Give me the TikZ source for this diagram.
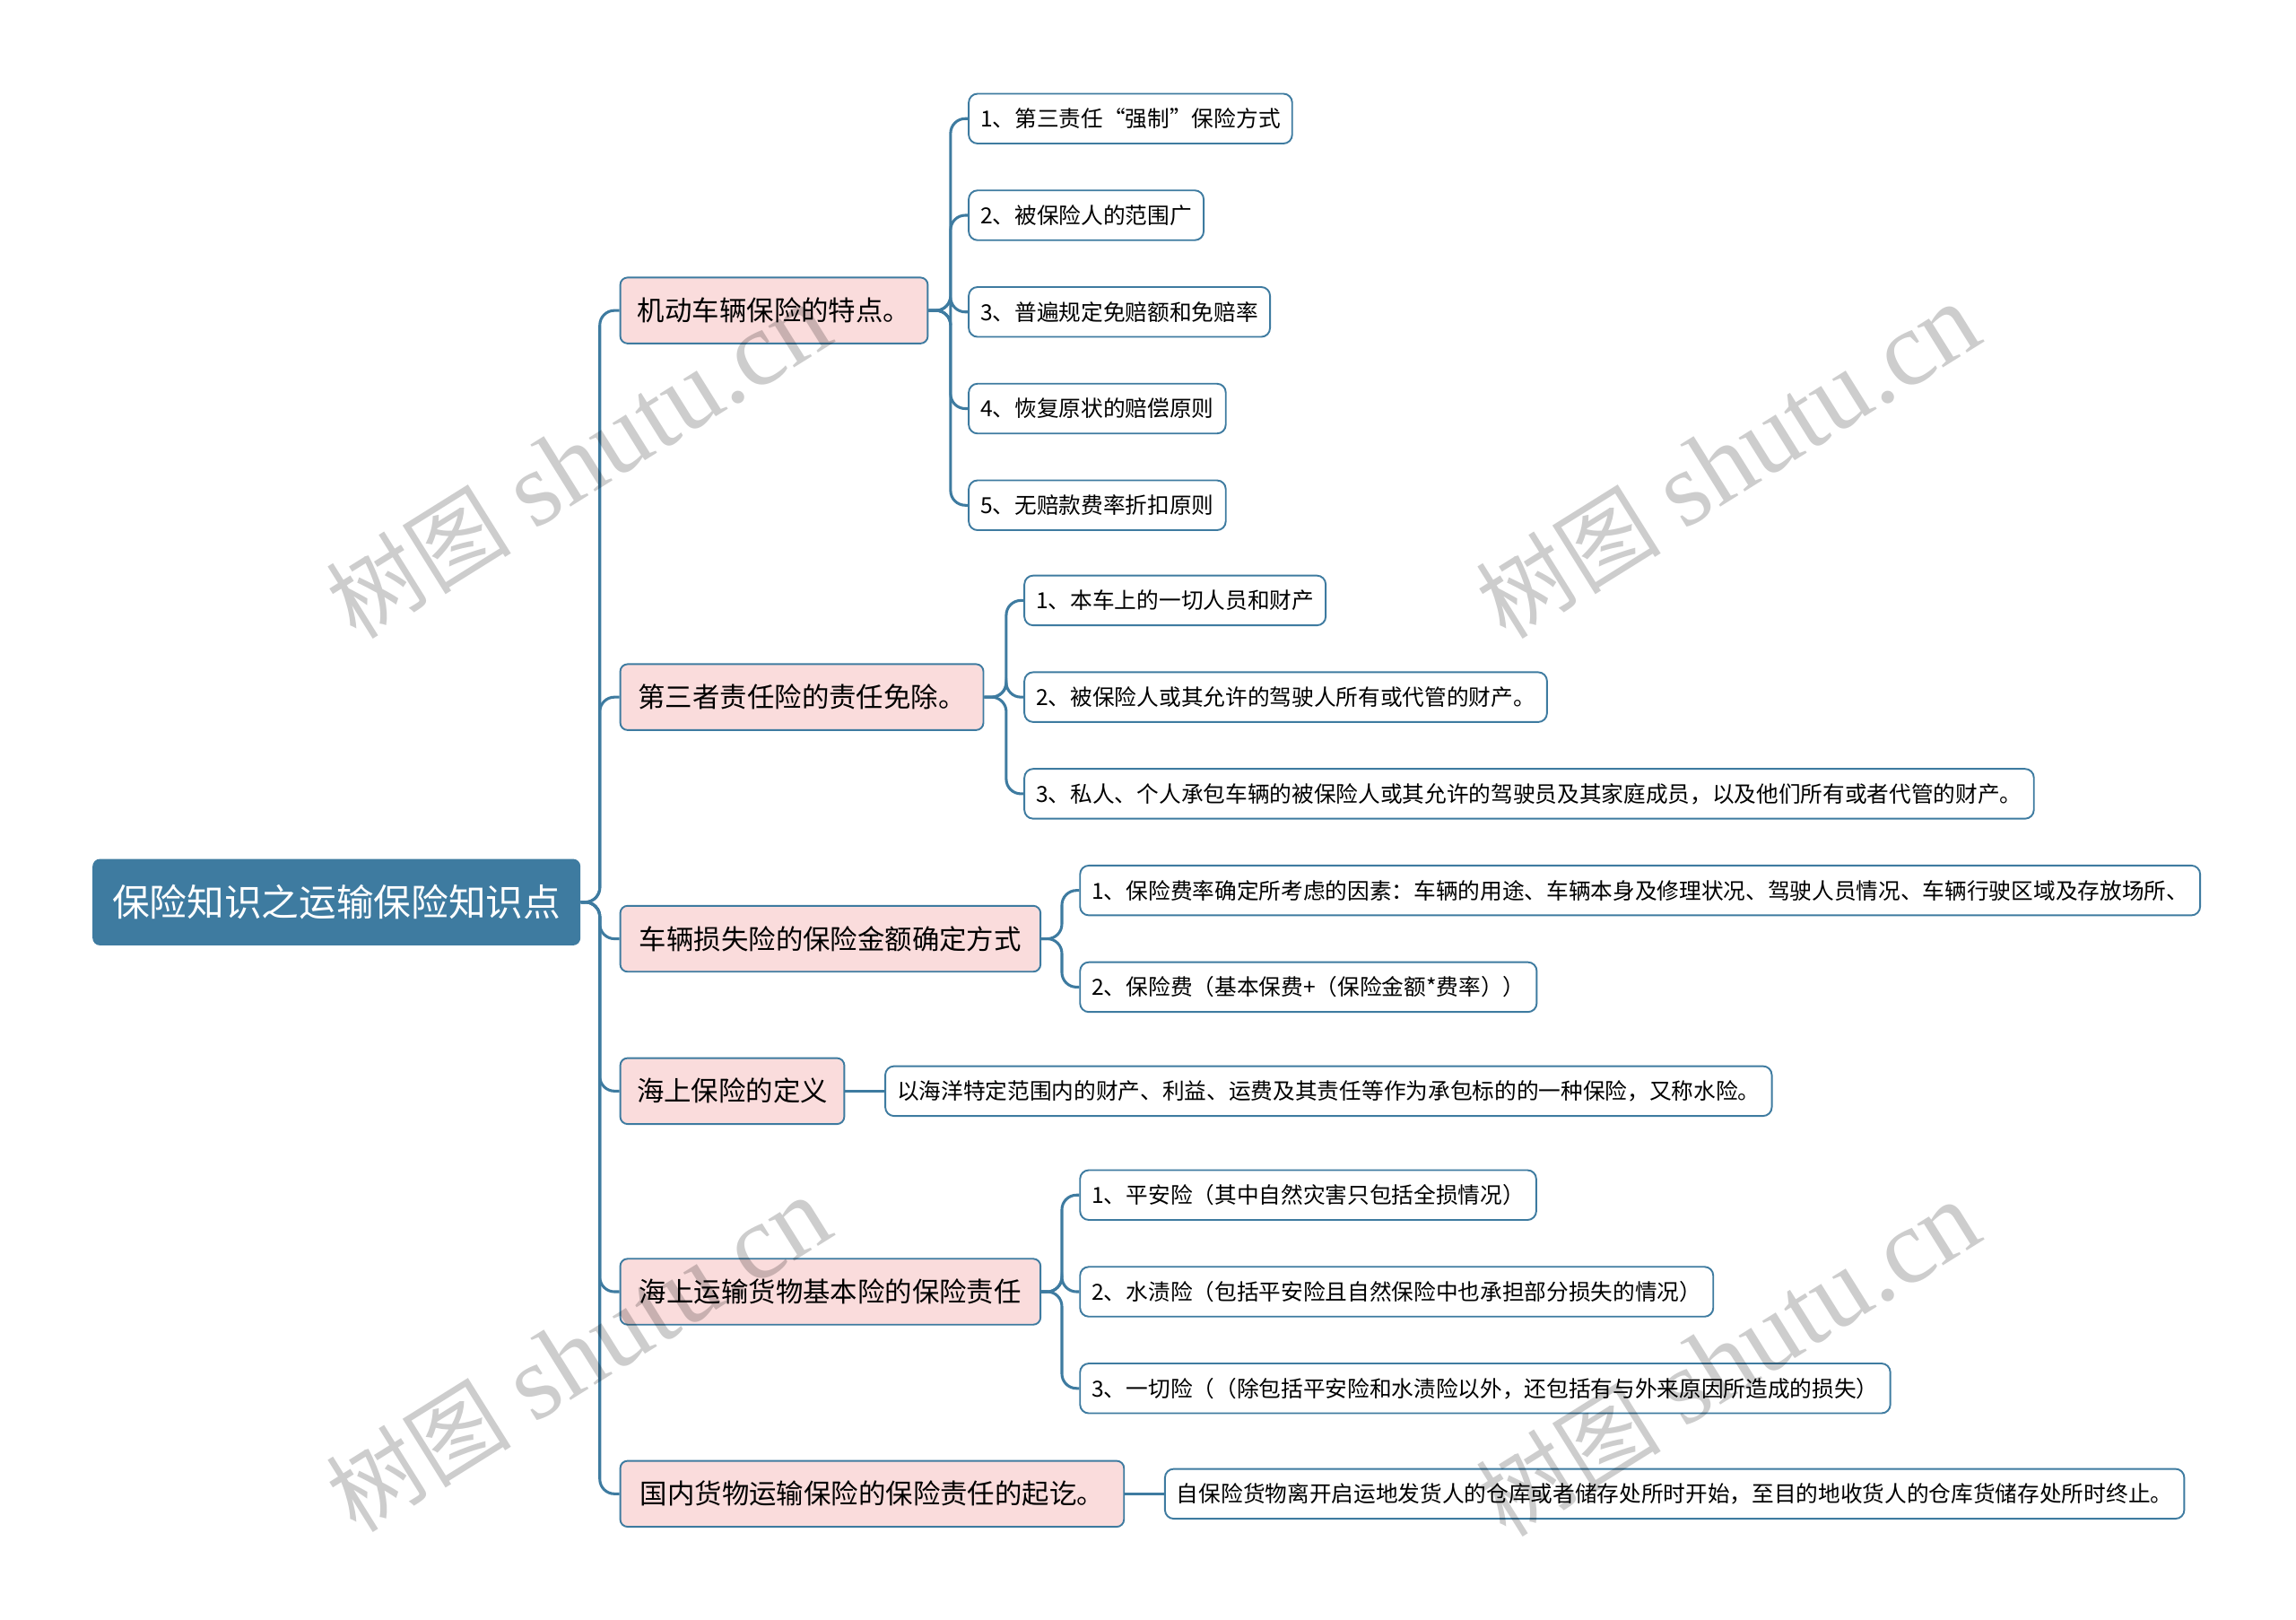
\documentclass[tikz,border=0pt]{standalone}
\usepackage{fontspec}
\setmainfont{Noto Sans CJK SC}
\newfontfamily\markfont{Liberation Serif}
\usepackage{tikz}
\usetikzlibrary{positioning,calc}
\definecolor{mBlue}{RGB}{62,123,160}
\definecolor{mPink}{RGB}{250,220,220}
\definecolor{mMark}{RGB}{205,205,205}
\tikzset{
  rootbox/.style={rectangle, rounded corners=0.15cm, fill=mBlue, text=white,
    font=\fontsize{21.8}{26}\selectfont, minimum height=1.77cm, minimum width=9.99cm,
    inner xsep=0.4cm, anchor=west},
  topicbox/.style={rectangle, rounded corners=0.15cm, draw=mBlue, line width=1pt,
    fill=mPink, font=\fontsize{15.9}{19}\selectfont, minimum height=1.35cm,
    inner xsep=0.3cm, anchor=west},
  leafbox/.style={rectangle, rounded corners=0.18cm, draw=mBlue, line width=1pt,
    fill=white, font=\fontsize{12.9}{15}\selectfont, minimum height=1.02cm,
    inner xsep=0.24cm, anchor=west},
  link/.style={draw=mBlue, line width=1.6pt, rounded corners=0.3cm},
  wmark/.style={text=mMark, blend mode=multiply, rotate=32, font=\fontsize{62}{70}\selectfont},
}
\newcommand{\wmtext}{{\fontsize{54}{60}\selectfont 树图} {\markfont shutu.cn}}

\begin{document}
\begin{tikzpicture}[x=0.03cm, y=-0.03cm]
    \useasboundingbox (0,0) rectangle (1568,1106);
    % root
    \node[rootbox] (root) at (63,616) {保险知识之运输保险知识点};
    % topics
    \node[topicbox, minimum width=6.3cm]  (car)    at (423,212)  {机动车辆保险的特点。};
    \node[topicbox, minimum width=7.44cm] (third)  at (423,476)  {第三者责任险的责任免除。};
    \node[topicbox, minimum width=8.61cm] (loss)   at (423,641)  {车辆损失险的保险金额确定方式};
    \node[topicbox, minimum width=4.59cm] (sea)    at (423,745)  {海上保险的定义};
    \node[topicbox, minimum width=8.61cm] (cargo)  at (423,882)  {海上运输货物基本险的保险责任};
    \node[topicbox, minimum width=10.32cm] (inland) at (423,1020) {国内货物运输保险的保险责任的起讫。};
    % leaves of car
    \node[leafbox] (car1) at (661,81)  {1、第三责任“强制”保险方式};
    \node[leafbox] (car2) at (661,147) {2、被保险人的范围广};
    \node[leafbox] (car3) at (661,213) {3、普遍规定免赔额和免赔率};
    \node[leafbox] (car4) at (661,279) {4、恢复原状的赔偿原则};
    \node[leafbox] (car5) at (661,345) {5、无赔款费率折扣原则};
    % leaves of third
    \node[leafbox] (third1) at (699,410) {1、本车上的一切人员和财产};
    \node[leafbox] (third2) at (699,476) {2、被保险人或其允许的驾驶人所有或代管的财产。};
    \node[leafbox] (third3) at (699,542) {3、私人、个人承包车辆的被保险人或其允许的驾驶员及其家庭成员，以及他们所有或者代管的财产。};
    % leaves of loss
    \node[leafbox] (loss1) at (737,608) {1、保险费率确定所考虑的因素：车辆的用途、车辆本身及修理状况、驾驶人员情况、车辆行驶区域及存放场所、};
    \node[leafbox] (loss2) at (737,674) {2、保险费（基本保费+（保险金额*费率））};
    % leaf of sea
    \node[leafbox] (sea1) at (604,745) {以海洋特定范围内的财产、利益、运费及其责任等作为承包标的的一种保险，又称水险。};
    % leaves of cargo
    \node[leafbox] (cargo1) at (737,816) {1、平安险（其中自然灾害只包括全损情况）};
    \node[leafbox] (cargo2) at (737,882) {2、水渍险（包括平安险且自然保险中也承担部分损失的情况）};
    \node[leafbox] (cargo3) at (737,948) {3、一切险（（除包括平安险和水渍险以外，还包括有与外来原因所造成的损失）};
    % leaf of inland
    \node[leafbox] (inland1) at (795,1020) {自保险货物离开启运地发货人的仓库或者储存处所时开始，至目的地收货人的仓库货储存处所时终止。};
    % connectors
    \foreach \c in {car,third,loss,sea,cargo,inland}
      \draw[link] (root.east) -- ++(13,0) |- (\c.west);
    \foreach \c in {car1,car2,car3,car4,car5}
      \draw[link] (car.east) -- ++(15,0) |- (\c.west);
    \foreach \c in {third1,third2,third3}
      \draw[link] (third.east) -- ++(15,0) |- (\c.west);
    \foreach \c in {loss1,loss2}
      \draw[link] (loss.east) -- ++(14,0) |- (\c.west);
    \foreach \c in {cargo1,cargo2,cargo3}
      \draw[link] (cargo.east) -- ++(14,0) |- (\c.west);
    \draw[link] (sea.east) -- (sea1.west);
    \draw[link] (inland.east) -- (inland1.west);
    % watermarks
    \node[wmark] (mark1) at (395,315) {\wmtext};
    \node[wmark] (mark2) at (1180,315) {\wmtext};
    \node[wmark] (mark3) at (395,925) {\wmtext};
    \node[wmark] (mark4) at (1180,928) {\wmtext};
\end{tikzpicture}
\end{document}
